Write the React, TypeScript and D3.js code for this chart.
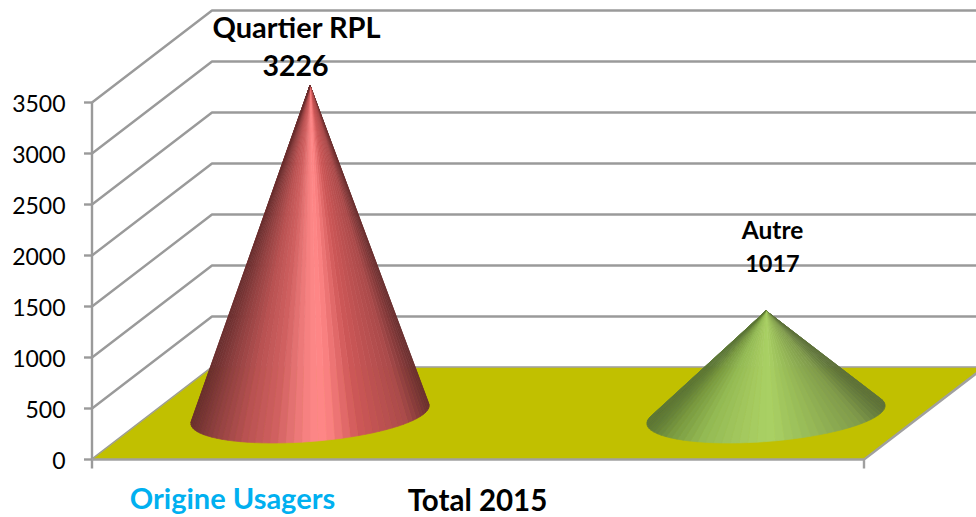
import React from "react";
import * as d3 from "d3";

const categories = ["Quartier RPL", "Autre"];
const values = [3226, 1017];
const yTicks = [0, 500, 1000, 1500, 2000, 2500, 3000, 3500];
const shadeStops = [-1, -0.82, -0.55, -0.3, -0.05, 0.07, 0.16, 0.4, 0.8, 1];
const redShades = ["#6a2e2e", "#8f4040", "#b95252", "#d06060", "#f58080", "#ff8888", "#fb8282", "#cf5858", "#ab4b4b", "#6a2f2f"];
const greenShades = ["#5a7436", "#789840", "#93ba54", "#a0c55c", "#a8cf63", "#a9d064", "#a3c85f", "#96b957", "#7f9a4b", "#5c7039"];
const xTitle = "Total 2015";
const legendTitle = "Origine Usagers";

const W = 976, H = 517;
const FONT = "Lato, Carlito, sans-serif";
const y = d3.scaleLinear().domain([0, 3500]).range([459.5, 102.5]);
const x = d3.scalePoint<string>().domain(categories).range([310, 766]);
const FRONT_X = 92, FRONT_END = 864;
const DX = 120, DY = -92;
const MID_DY = -45;
const RX = 119.5, RY = 27, TILT = (-4.5 * Math.PI) / 180;

function Cone({ cat, value, shades }: { cat: string; value: number; shades: string[] }) {
  const cx = x(cat)!;
  const cy = y(0) + MID_DY;
  const ax = cx;
  const ay = y(value) + MID_DY;
  const cos = Math.cos(TILT), sin = Math.sin(TILT);
  const pt = (t: number): [number, number] => {
    const ex = RX * Math.cos(t), ey = RY * Math.sin(t);
    return [cx + ex * cos - ey * sin, cy + ex * sin + ey * cos];
  };
  const lx = (ax - cx) * cos + (ay - cy) * sin;
  const ly = -(ax - cx) * sin + (ay - cy) * cos;
  const A = lx / RX, B = ly / RY;
  const base = Math.atan2(B, A);
  const spread = Math.acos(1 / Math.hypot(A, B));
  const t0 = base + spread;
  const t1 = base - spread + 2 * Math.PI;
  const color = d3.scaleLinear<string>().domain(shadeStops).range(shades).interpolate(d3.interpolateRgb).clamp(true);
  const N = 48;
  const ts = d3.range(N + 1).map((i) => t0 + ((t1 - t0) * i) / N);
  const facets = d3.pairs(ts).map(([a, b]) => {
    const p = pt(a), q = pt(b);
    const xm = (p[0] + q[0]) / 2;
    return { d: d3.line()([[ax, ay], p, q])! + "Z", fill: color((xm - cx) / RX) };
  });
  return (
    <g>
      {facets.map((f, i) => (
        <path key={i} d={f.d} fill={f.fill} stroke={f.fill} strokeWidth={0.7} strokeLinejoin="round" />
      ))}
    </g>
  );
}

export default function App() {
  const zero = y(0);
  const floor = d3.line()([
    [FRONT_X, zero],
    [FRONT_END, zero],
    [FRONT_END + DX, zero + DY],
    [FRONT_X + DX, zero + DY],
  ])! + "Z";
  return (
    <svg width={W} height={H} viewBox={`0 0 ${W} ${H}`} style={{ position: "absolute", left: 0, top: 0, background: "#fff" }}>
      {yTicks.map((t) => (
        <g key={t} fill="none" stroke="#9a9a9a" strokeWidth={2.4}>
          <path d={`M${FRONT_X},${y(t)}L${FRONT_X + DX},${y(t) + DY}H${W + 5}`} strokeLinejoin="round" />
          <path d={`M${FRONT_X - 8},${y(t)}H${FRONT_X}`} />
        </g>
      ))}
      <path d={floor} fill="#c1c000" stroke="#a9a97a" strokeWidth={1} />
      <path d={`M${FRONT_X},${zero + 9}V${y(3500)}`} stroke="#9a9a9a" strokeWidth={2.4} fill="none" />
      <path d={`M${FRONT_X},${zero}H${FRONT_END}`} stroke="#a0a0a0" strokeWidth={2.4} fill="none" />
      <path d={`M${FRONT_END},${zero + 9}V${zero}L${FRONT_END + DX},${zero + DY}`} stroke="#a0a0a0" strokeWidth={2.4} fill="none" />

      {yTicks.map((t) => (
        <text key={t} x={65.5} y={y(t) + 9} textAnchor="end" fontFamily={FONT} fontSize={23} fill="#000">{t}</text>
      ))}

      <Cone cat={categories[0]} value={values[0]} shades={redShades} />
      <Cone cat={categories[1]} value={values[1]} shades={greenShades} />

      <g fontFamily={FONT} fontWeight={700} fill="#000" textAnchor="middle">
        <text x={296.5} y={38} fontSize={29}>{categories[0]}</text>
        <text x={295.5} y={76} fontSize={28.5}>{values[0]}</text>
        <text x={772.5} y={239} fontSize={24.5}>{categories[1]}</text>
        <text x={772.5} y={272} fontSize={23.5}>{values[1]}</text>
        <text x={477.5} y={511} fontSize={29.5}>{xTitle}</text>
      </g>
      <text x={232.5} y={509} textAnchor="middle" fontFamily={FONT} fontWeight={700} fontSize={29} fill="#00b0f0">{legendTitle}</text>
    </svg>
  );
}
